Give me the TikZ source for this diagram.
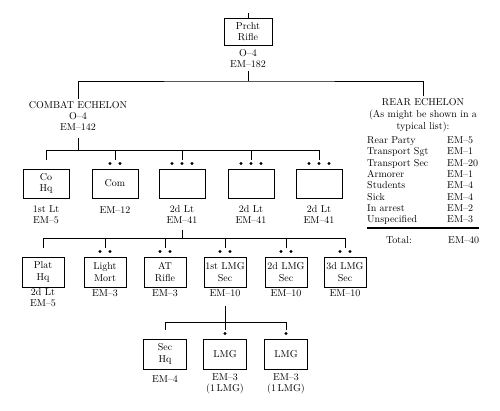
\documentclass[tikz,border=0pt]{standalone}
\usetikzlibrary{positioning}

\newcommand{\rankdots}[2]{%
  \foreach \k in {1,...,#2}
    \fill ([xshift={(\k-(#2+1)/2)*10pt}, yshift=5pt]#1.north) circle (1.6pt);%
}

\begin{document}
\begin{tikzpicture}[
    x=1pt, y=-1pt,
    unit/.style={rectangle, draw, line width=1pt, align=center, inner sep=1pt, font=\fontsize{10}{11.5}\selectfont},
    unitA/.style={unit, minimum width=48pt, minimum height=27pt},
    unitB/.style={unit, minimum width=46pt, minimum height=29pt},
    unitC/.style={unit, minimum width=42pt, minimum height=30pt},
    unitD/.style={unit, minimum width=43pt, minimum height=30pt},
    strength/.style={align=center, inner sep=2pt, font=\fontsize{10}{11}\selectfont},
    listitem/.style={anchor=base west, inner sep=0pt, font=\fontsize{10}{11}\selectfont},
    link/.style={line width=0.8pt}
]
\useasboundingbox (0,0) rectangle (500,410);

% Company
\coordinate (stub) at (248,13);
\node[unitA] (prcht) at (248,31.5) {Prcht\\Rifle};
\node[strength] (prchtlbl) at (248,59) {O--4\\EM--182};
\draw[link] (stub) -- (prcht.north);

% Echelons
\node[strength] (combat) at (78,116) {COMBAT ECHELON\\O--4\\EM--142};
\node[strength, font=\fontsize{10}{12}\selectfont] (rear) at (423,115) {REAR ECHELON\\(As might be shown in a\\typical list):};
\coordinate (topbus) at (248,81);
\draw[link, shorten <=1pt] (prchtlbl.south) -- (topbus);
\draw[link] (combat.north) |- (topbus) -| (rear.north);

% Combat echelon units
\node[unitB] (cohq) at (46,183.5) {Co\\Hq};
\node[unitB] (com) at (115,183.5) {Com};
\node[unitB] (plta) at (182,183.5) {};
\node[unitB] (pltb) at (251,183.5) {};
\node[unitB] (pltc) at (319,183.5) {};
\node[strength] (cohqlbl) at (46,214.5) {1st Lt\\EM--5};
\node[strength] (comlbl) at (115,210) {EM--12};
\node[strength] (platalbl) at (182,214.5) {2d Lt\\EM--41};
\node[strength] (platblbl) at (251,214.5) {2d Lt\\EM--41};
\node[strength] (platclbl) at (319,214.5) {2d Lt\\EM--41};
\rankdots{com}{2}
\rankdots{plta}{3}
\rankdots{pltb}{3}
\rankdots{pltc}{3}

\coordinate (combatbus) at (78,150);
\draw[link, shorten <=5pt] (combat.south) -- (combatbus);
\draw[link] (cohq.north |- combatbus) -- (pltc.north |- combatbus);
\foreach \u in {cohq,com,plta,pltb,pltc}
  \draw[link] (\u.north |- combatbus) -- ([yshift=9pt]\u.north);

% Platoon
\node[unitC] (plathq) at (43,272) {Plat\\Hq};
\node[unitC] (ltmort) at (105,272) {Light\\Mort};
\node[unitC] (atrifle) at (165,272) {AT\\Rifle};
\node[unitC] (lmga) at (225,272) {1st LMG\\Sec};
\node[unitC] (lmgb) at (286,272) {2d LMG\\Sec};
\node[unitC] (lmgc) at (345,272) {3d LMG\\Sec};
\node[strength] (plathqlbl) at (43,297.5) {2d Lt\\EM--5};
\node[strength] (ltmortlbl) at (105,293) {EM--3};
\node[strength] (atriflelbl) at (165,293) {EM--3};
\node[strength] (lmgalbl) at (225,293) {EM--10};
\node[strength] (lmgblbl) at (286,293) {EM--10};
\node[strength] (lmgclbl) at (345,293) {EM--10};
\foreach \u in {ltmort,atrifle,lmga,lmgb,lmgc}{
  \rankdots{\u}{2}
}

\coordinate (platbus) at (182,238);
\draw[link, shorten <=4pt] (platalbl.south) -- (platbus);
\draw[link] (plathq.north |- platbus) -- (lmgc.north |- platbus);
\foreach \u in {plathq,ltmort,atrifle,lmga,lmgb,lmgc}
  \draw[link] (\u.north |- platbus) -- ([yshift=9pt]\u.north);

% LMG section
\node[unitD] (sechq) at (165,354) {Sec\\Hq};
\node[unitD] (lmgx) at (225,354) {LMG};
\node[unitD] (lmgy) at (286,354) {LMG};
\node[strength] (sechqlbl) at (165,379) {EM--4};
\node[strength] (lmgxlbl) at (225,383.5) {EM--3\\(1\,LMG)};
\node[strength] (lmgylbl) at (286,383.5) {EM--3\\(1\,LMG)};
\rankdots{lmgx}{1}
\rankdots{lmgy}{1}

\coordinate (lmgbus) at (225,322);
\draw[link, shorten <=7pt] (lmgalbl.south) -- ([yshift=9pt]lmgx.north);
\draw[link] (sechq.north |- lmgbus) -- (lmgy.north |- lmgbus);
\foreach \u in {sechq,lmgy}
  \draw[link] (\u.north |- lmgbus) -- ([yshift=9pt]\u.north);

% Rear echelon list
\foreach \duty/\em [count=\i] in {Rear Party/5, Transport Sgt/1, Transport Sec/20, Armorer/1, Students/4, Sick/4, In arrest/2, Unspecified/3} {
  \node[listitem] (duty\i) at (367,{143.5+11.3*(\i-1)}) {\duty};
  \node[listitem] (em\i) at (447,{143.5+11.3*(\i-1)}) {EM--\em};
}
\draw[line width=1.2pt] (367,228) -- (479,228);
\node[listitem, anchor=base] (total) at (399,243.5) {Total:};
\node[listitem] (totalem) at (448,243.5) {EM--40};

\end{tikzpicture}
\end{document}
